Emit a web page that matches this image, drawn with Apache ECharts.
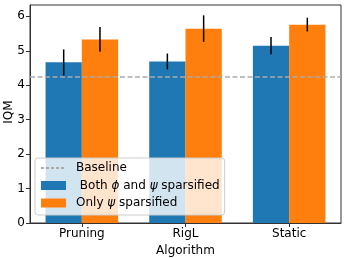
<!DOCTYPE html>
<html>
<head>
<meta charset="utf-8">
<script src="https://cdn.jsdelivr.net/npm/echarts@6/dist/echarts.min.js"></script>
<style>
html,body{margin:0;padding:0;background:#fff;}
#chart{width:345px;height:258px;}
</style>
</head>
<body>
<div id="chart"></div>
<script>
const categories = ['Pruning', 'RigL', 'Static'];
const bothValues = [4.67, 4.69, 5.15];
const bothErrLow = [4.28, 4.46, 4.90];
const bothErrHigh = [5.04, 4.92, 5.40];
const onlyValues = [5.33, 5.64, 5.76];
const onlyErrLow = [4.97, 5.26, 5.56];
const onlyErrHigh = [5.69, 6.03, 5.96];
const baselineValue = 4.26;
const yTicks = [0, 1, 2, 3, 4, 5, 6];
const yAxisTitle = 'IQM';
const xAxisTitle = 'Algorithm';

const BOTH = 'Both ϕ and ψ sparsified';
const ONLY = 'Only ψ sparsified';
const FONT = 'DejaVu Sans';

function errData(lo, hi, off) {
  return categories.map((c, i) => [i, lo[i], hi[i], off]);
}
function renderErr(params, api) {
  const idx = api.value(0), lo = api.value(1), hi = api.value(2), off = api.value(3);
  const band = api.size([1, 0])[0];
  const p1 = api.coord([idx, lo]);
  const p2 = api.coord([idx, hi]);
  const x = p1[0] + off * band;
  return {
    type: 'line',
    shape: { x1: x, y1: p1[1], x2: x, y2: p2[1] },
    style: { stroke: '#000', lineWidth: 1.5 }
  };
}

const chart = echarts.init(document.getElementById('chart'), null, { renderer: 'canvas' });
chart.setOption({
  animation: false,
  textStyle: { fontFamily: FONT },
  grid: {
    left: 30, right: 4, top: 5, bottom: 35, show: true, borderColor: '#333', borderWidth: 1,
    containLabel: false, outerBoundsMode: 'none'
  },
  graphic: [{
    type: 'text',
    x: 9,
    y: 112,
    rotation: Math.PI / 2,
    style: {
      text: yAxisTitle, fontSize: 12, fill: '#000', fontFamily: FONT,
      textAlign: 'center', textVerticalAlign: 'middle'
    }
  }],
  legend: {
    orient: 'vertical',
    left: 35,
    top: 158,
    padding: [4, 5, 6, 5],
    itemGap: 5.5,
    itemWidth: 25,
    itemHeight: 9,
    backgroundColor: 'rgba(255,255,255,0.8)',
    borderColor: '#ccc',
    borderWidth: 1,
    borderRadius: 3,
    data: [
      { name: 'Baseline', itemStyle: { opacity: 0 } },
      { name: BOTH, icon: 'rect' },
      { name: ONLY, icon: 'rect' }
    ],
    formatter: function (name) {
      if (name === BOTH) return ' Both {i|ϕ} and {i|ψ} sparsified';
      if (name === ONLY) return 'Only {i|ψ} sparsified';
      return name;
    },
    textStyle: {
      fontSize: 12, color: '#000', fontFamily: FONT, padding: [0, 0, 0, 5],
      rich: { i: { fontStyle: 'italic', fontSize: 12, fontFamily: FONT, color: '#000' } }
    }
  },
  xAxis: {
    type: 'category',
    data: categories,
    name: xAxisTitle,
    nameLocation: 'middle',
    nameGap: 19,
    nameTextStyle: { fontSize: 12, color: '#000', fontFamily: FONT },
    axisLine: { show: true, lineStyle: { color: '#333', width: 1 } },
    axisTick: { show: true, alignWithLabel: true, length: 4, lineStyle: { color: '#333' } },
    axisLabel: { fontSize: 12, color: '#000', margin: 5, fontFamily: FONT },
    splitLine: { show: false }
  },
  yAxis: {
    type: 'value',
    min: 0,
    max: 6.33,
    interval: 1,
    axisLine: { show: true, lineStyle: { color: '#333', width: 1 } },
    axisTick: { show: true, length: 4, lineStyle: { color: '#333' }, customValues: yTicks },
    axisLabel: { fontSize: 12, color: '#000', margin: 5, fontFamily: FONT, customValues: yTicks },
    splitLine: { show: false }
  },
  series: [
    {
      name: BOTH, type: 'bar', data: bothValues, barWidth: '35%', barGap: '0%',
      itemStyle: { color: '#1f77b4' }
    },
    {
      name: ONLY, type: 'bar', data: onlyValues, barWidth: '35%', barGap: '0%',
      itemStyle: { color: '#ff7f0e' }
    },
    {
      type: 'custom', renderItem: renderErr, data: errData(bothErrLow, bothErrHigh, -0.175),
      z: 5, silent: true, encode: { x: 0, y: [1, 2] }
    },
    {
      type: 'custom', renderItem: renderErr, data: errData(onlyErrLow, onlyErrHigh, 0.175),
      z: 5, silent: true, encode: { x: 0, y: [1, 2] }
    },
    {
      name: 'Baseline', type: 'line', data: [null, null, null], symbol: 'none',
      lineStyle: { color: '#aaa', width: 1, type: [3, 2] },
      itemStyle: { color: '#aaa' },
      z: 6,
      markLine: {
        silent: true, symbol: ['none', 'none'], label: { show: false },
        lineStyle: { color: '#aaa', width: 1.5, type: [5, 2.5] },
        data: [{ yAxis: baselineValue }]
      }
    }
  ]
});
</script>
</body>
</html>
